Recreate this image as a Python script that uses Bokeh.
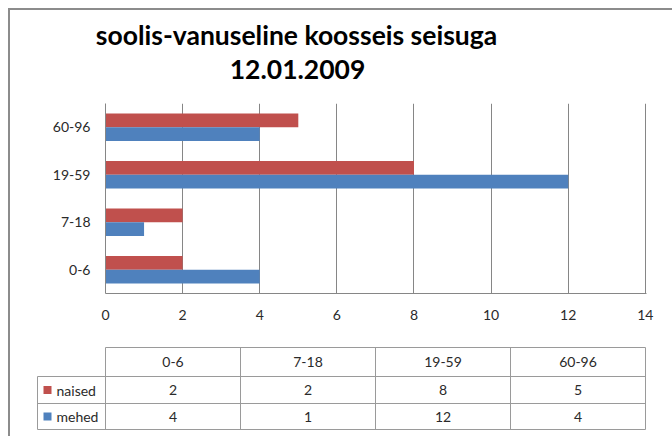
from bokeh.plotting import figure
from bokeh.layouts import column
from bokeh.models import Range1d, FactorRange, FixedTicker, ColumnDataSource
from bokeh.transform import dodge
from bokeh.core.properties import value
from bokeh.embed import file_html
from bokeh.resources import INLINE

# ---- data ----
title_lines = ["soolis-vanuseline koosseis seisuga", "12.01.2009"]
categories = ["0-6", "7-18", "19-59", "60-96"]
series_names = ["naised", "mehed"]
naised = [2, 2, 8, 5]
mehed = [4, 1, 12, 4]
x_ticks = [0, 2, 4, 6, 8, 10, 12, 14]

# ---- style ----
RED = "#C0504D"
BLUE = "#4F81BD"
GRID = "#868686"
TABLE_LINE = "#9a9a9a"
TXT = "#2a2a2a"
FONT = "Lato"
W = 662          # content spans page x 10..672
X0, X1 = 10, 672


def no_align(fig):
    try:
        fig.frame_align = False
    except Exception:
        pass


# ---- title ----
tf = figure(width=W, height=90, x_range=Range1d(X0, X1), y_range=Range1d(100, 10),
            x_axis_location=None, y_axis_location=None, min_border=0,
            output_backend="svg", toolbar_location=None)
tf.grid.visible = False
tf.outline_line_color = None
tf.text(x=[296, 297], y=[34, 69], text=title_lines, text_font=value(FONT),
        text_font_style="bold", text_font_size="26.5px", text_align="center",
        text_baseline="middle", text_color="black")

# ---- chart ----
src = ColumnDataSource(dict(cat=categories, naised=naised, mehed=mehed))
p = figure(width=W, height=240, y_range=FactorRange(*categories), x_range=Range1d(0, 14.03),
           min_border_left=95, min_border_right=26, min_border_top=3, min_border_bottom=47,
           output_backend="svg", toolbar_location=None)
p.hbar(y=dodge("cat", 0.145, range=p.y_range), right="naised", height=0.29,
       source=src, fill_color=RED, line_color=None)
p.hbar(y=dodge("cat", -0.145, range=p.y_range), right="mehed", height=0.29,
       source=src, fill_color=BLUE, line_color=None)
p.xaxis.ticker = FixedTicker(ticks=x_ticks)
p.ygrid.visible = False
p.xgrid.grid_line_color = GRID
p.outline_line_color = None
p.axis.axis_line_color = GRID
p.axis.major_tick_line_color = None
p.axis.minor_tick_line_color = None
p.axis.major_tick_out = 0
p.axis.major_tick_in = 0
p.axis.major_label_text_font = FONT
p.axis.major_label_text_font_size = "14px"
p.axis.major_label_text_color = TXT
p.xaxis.major_label_standoff = 16
p.yaxis.major_label_standoff = 15

# ---- data table ----
col_left, col_w, leg_left = 105, 135, 37
row_lines = [347, 376, 403, 429]
n = len(categories)
col_right = col_left + col_w * n

tb = figure(width=W, height=92, x_range=Range1d(X0, X1), y_range=Range1d(432, 340),
            x_axis_location=None, y_axis_location=None, min_border=0,
            output_backend="svg", toolbar_location=None)
tb.grid.visible = False
tb.outline_line_color = None

x0 = [col_left] + [leg_left] * 3
x1 = [col_right] * 4
y0 = row_lines
tb.segment(x0=x0, y0=y0, x1=x1, y1=y0, line_color=TABLE_LINE, line_width=1)
vx = [leg_left] + [col_left + col_w * i for i in range(n + 1)]
vy0 = [row_lines[1]] + [row_lines[0]] * (n + 1)
vy1 = [row_lines[-1]] * (n + 2)
tb.segment(x0=vx, y0=vy0, x1=vx, y1=vy1, line_color=TABLE_LINE, line_width=1)

centers = [col_left + col_w * (i + 0.5) for i in range(n)]
row_mid = [(row_lines[i] + row_lines[i + 1]) / 2 for i in range(3)]
txt_kw = dict(text_font=value(FONT), text_font_size="14px", text_color=TXT,
              text_baseline="middle")
tb.text(x=centers, y=[row_mid[0]] * n, text=categories, text_align="center", **txt_kw)
tb.text(x=centers, y=[row_mid[1]] * n, text=[str(v) for v in naised], text_align="center", **txt_kw)
tb.text(x=centers, y=[row_mid[2]] * n, text=[str(v) for v in mehed], text_align="center", **txt_kw)
tb.rect(x=[47, 47], y=[row_mid[1], row_mid[2]], width=8, height=8,
        fill_color=[RED, BLUE], line_color=None)
tb.text(x=[56, 56], y=[row_mid[1], row_mid[2]], text=series_names, text_align="left", **txt_kw)

for f in (tf, p, tb):
    no_align(f)

layout = column(tf, p, tb, spacing=0,
                styles={"margin-left": "8px", "margin-top": "8px", "padding-bottom": "4px",
                        "border-top": "2px solid #8c8c8c", "border-left": "2px solid #8c8c8c"})

open("out.html", "w").write(file_html(layout, INLINE))
